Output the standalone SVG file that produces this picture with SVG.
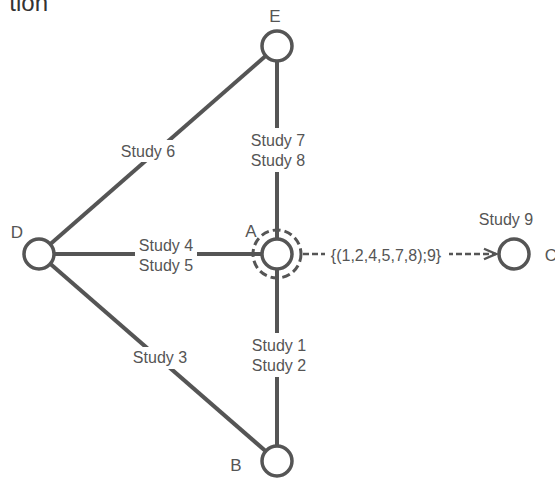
<svg xmlns="http://www.w3.org/2000/svg" width="555" height="479" viewBox="0 0 555 479">
  <style>
    .edge { stroke: #555; stroke-width: 4; fill: none; }
    .dash { stroke: #555; stroke-width: 2.5; fill: none; stroke-dasharray: 6 3; }
    .node { fill: #fff; stroke: #555; stroke-width: 3.5; }
    .ring { fill: none; stroke: #555; stroke-width: 3; stroke-dasharray: 8 4; }
    .lbl { font-family: "Liberation Sans", Arial, sans-serif; font-size: 16px; fill: #555; text-anchor: middle; dominant-baseline: central; }
    .nlbl { font-family: "Liberation Sans", Arial, sans-serif; font-size: 17px; fill: #555; text-anchor: middle; dominant-baseline: central; }
    .bg { fill: #fff; }
  </style>
  <defs>
    <marker id="chev" viewBox="0 0 10 10" refX="9" refY="5" markerWidth="6" markerHeight="6" orient="auto" markerUnits="strokeWidth">
      <path d="M1,1.5 L9,5 L1,8.5" fill="none" stroke="#555" stroke-width="1.6"/>
    </marker>
  </defs>

  <!-- title, clipped by the top edge -->
  <text x="48" y="11" font-family="Liberation Sans, Arial, sans-serif" font-size="24" fill="#333" text-anchor="end">tion</text>

  <g id="connectors">
    <line class="edge" x1="39" y1="254" x2="277" y2="46"/>
    <line class="edge" x1="39" y1="254" x2="277" y2="461"/>
    <line class="edge" x1="39" y1="254" x2="277" y2="254"/>
    <line class="edge" x1="277" y1="46" x2="277" y2="461"/>
    <line class="dash" x1="303" y1="254" x2="496" y2="254" marker-end="url(#chev)"/>

    <!-- label backgrounds break the lines -->
    <rect class="bg" x="117" y="140" width="62" height="22"/>
    <rect class="bg" x="247" y="128" width="62" height="44"/>
    <rect class="bg" x="135" y="233" width="62" height="44"/>
    <rect class="bg" x="129" y="347" width="62" height="22"/>
    <rect class="bg" x="248" y="333" width="62" height="44"/>
    <rect class="bg" x="325" y="243" width="124" height="24"/>

    <text class="lbl" x="148" y="151">Study 6</text>
    <text class="lbl" x="278" y="140">Study 7</text>
    <text class="lbl" x="278" y="160">Study 8</text>
    <text class="lbl" x="166" y="245">Study 4</text>
    <text class="lbl" x="166" y="265">Study 5</text>
    <text class="lbl" x="160" y="357">Study 3</text>
    <text class="lbl" x="279" y="345">Study 1</text>
    <text class="lbl" x="279" y="365">Study 2</text>
    <text class="lbl" x="386" y="255">{(1,2,4,5,7,8);9}</text>
  </g>

  <g id="node-E">
    <circle class="node" cx="277" cy="46" r="15"/>
    <text class="nlbl" x="275" y="16">E</text>
  </g>
  <g id="node-D">
    <circle class="node" cx="39" cy="254" r="15"/>
    <text class="nlbl" x="17" y="232">D</text>
  </g>
  <g id="node-A">
    <circle class="node" cx="277" cy="254" r="15"/>
    <circle class="ring" cx="277" cy="254" r="24"/>
    <text class="nlbl" x="251" y="231">A</text>
  </g>
  <g id="node-B">
    <circle class="node" cx="277" cy="461" r="15"/>
    <text class="nlbl" x="236" y="465">B</text>
  </g>
  <g id="node-C">
    <circle class="node" cx="514" cy="254" r="15"/>
    <text class="lbl" x="506" y="219">Study 9</text>
    <text class="nlbl" x="551" y="255">C</text>
  </g>
</svg>
